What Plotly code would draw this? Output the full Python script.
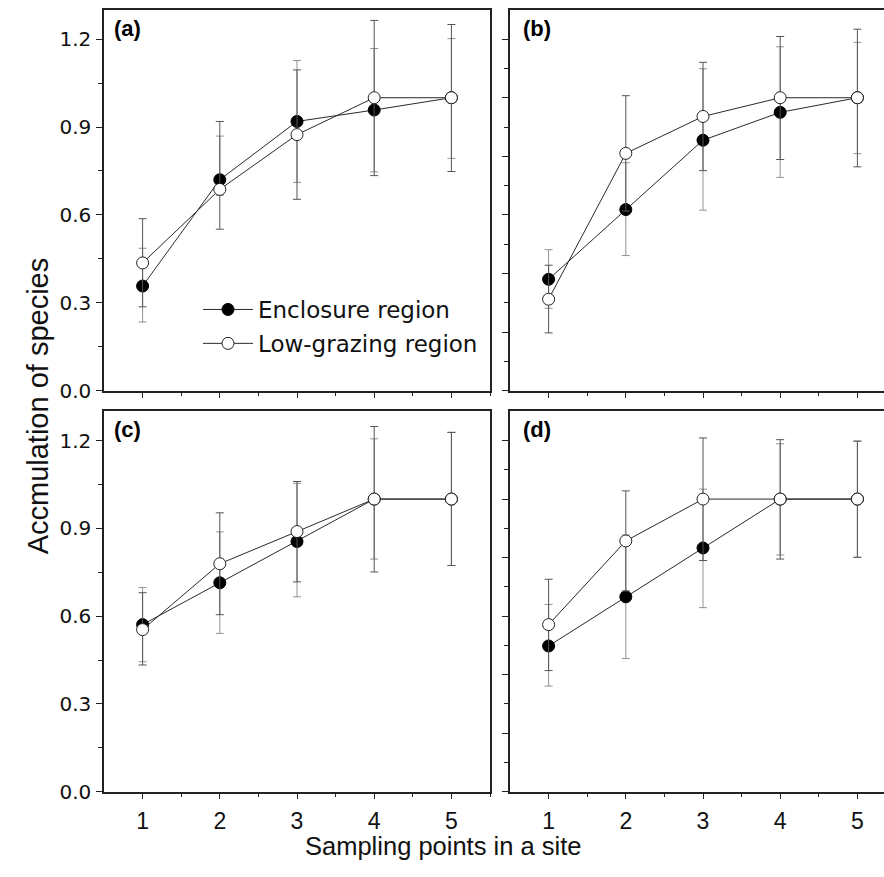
import plotly.graph_objects as go

# ---- data ----
x_points = [1, 2, 3, 4, 5]
series_names = ["Enclosure region", "Low-grazing region"]
panel_labels = ["(a)", "(b)", "(c)", "(d)"]

# Panel (a)
a_enc_mean = [0.357, 0.720, 0.919, 0.958, 1.000]
a_enc_hi = [0.486, 0.869, 1.127, 1.168, 1.202]
a_enc_lo = [0.234, 0.667, 0.711, 0.747, 0.793]
a_low_mean = [0.436, 0.687, 0.874, 1.000, 1.000]
a_low_hi = [0.587, 0.919, 1.095, 1.264, 1.250]
a_low_lo = [0.286, 0.551, 0.653, 0.734, 0.748]

# Panel (b)
b_enc_mean = [0.380, 0.618, 0.855, 0.950, 1.000]
b_enc_hi = [0.481, 0.778, 1.099, 1.174, 1.189]
b_enc_lo = [0.281, 0.461, 0.616, 0.728, 0.809]
b_low_mean = [0.312, 0.810, 0.936, 1.000, 1.000]
b_low_hi = [0.428, 1.007, 1.121, 1.209, 1.234]
b_low_lo = [0.197, 0.613, 0.751, 0.789, 0.764]

# Panel (c)
c_enc_mean = [0.571, 0.714, 0.855, 1.000, 1.000]
c_enc_hi = [0.698, 0.888, 1.054, 1.206, 1.228]
c_enc_lo = [0.444, 0.541, 0.666, 0.795, 0.773]
c_low_mean = [0.554, 0.779, 0.889, 1.000, 1.000]
c_low_hi = [0.680, 0.953, 1.060, 1.248, 1.228]
c_low_lo = [0.433, 0.605, 0.717, 0.751, 0.773]

# Panel (d)
d_enc_mean = [0.498, 0.666, 0.833, 1.000, 1.000]
d_enc_hi = [0.640, 0.877, 1.034, 1.189, 1.198]
d_enc_lo = [0.361, 0.455, 0.629, 0.809, 0.801]
d_low_mean = [0.571, 0.857, 1.000, 1.000, 1.000]
d_low_hi = [0.726, 1.028, 1.209, 1.203, 1.198]
d_low_lo = [0.414, 0.686, 0.790, 0.795, 0.801]

y_ticks_left = [0.0, 0.3, 0.6, 0.9, 1.2]
y_tick_text = ["0.0", "0.3", "0.6", "0.9", "1.2"]
x_tick_text = ["1", "2", "3", "4", "5"]

panels = [
    (a_enc_mean, a_enc_hi, a_enc_lo, a_low_mean, a_low_hi, a_low_lo),
    (b_enc_mean, b_enc_hi, b_enc_lo, b_low_mean, b_low_hi, b_low_lo),
    (c_enc_mean, c_enc_hi, c_enc_lo, c_low_mean, c_low_hi, c_low_lo),
    (d_enc_mean, d_enc_hi, d_enc_lo, d_low_mean, d_low_hi, d_low_lo),
]

W, H = 884, 877
def px_x(p):
    return p / W
def px_y(p):
    return 1 - p / H

x_domains = [[px_x(104), px_x(490)], [px_x(510), 1.0]]
y_domains = [[px_y(396), px_y(10)], [px_y(802.7), px_y(417)]]

fig = go.Figure()
LINE = "#2a2a2a"
ENC_ERR = "#939393"
LOW_ERR = "#555555"

for i, (em, eh, el, lm, lh, ll) in enumerate(panels):
    ax = "" if i == 0 else str(i + 1)
    xr = "x" + ax
    yr = "y" + ax
    fig.add_trace(go.Scatter(
        x=x_points, y=em, xaxis=xr, yaxis=yr, mode="lines+markers",
        name=series_names[0], legendgroup="enc", showlegend=(i == 0),
        line=dict(color=LINE, width=1),
        marker=dict(size=12, color="black", line=dict(color="black", width=1)),
        error_y=dict(type="data", symmetric=False,
                     array=[h - m for h, m in zip(eh, em)],
                     arrayminus=[m - l for m, l in zip(em, el)],
                     color=ENC_ERR, thickness=1, width=4),
    ))
    fig.add_trace(go.Scatter(
        x=x_points, y=lm, xaxis=xr, yaxis=yr, mode="lines+markers",
        name=series_names[1], legendgroup="low", showlegend=(i == 0),
        line=dict(color=LINE, width=1),
        marker=dict(size=12, color="white", line=dict(color="#222222", width=1)),
        error_y=dict(type="data", symmetric=False,
                     array=[h - m for h, m in zip(lh, lm)],
                     arrayminus=[m - l for m, l in zip(lm, ll)],
                     color=LOW_ERR, thickness=1, width=4),
    ))

layout = {}
for i in range(4):
    col = i % 2
    row = i // 2
    ax = "" if i == 0 else str(i + 1)
    left = col == 0
    bottom = row == 1
    xrange_ = [0.5, 5.5] if left else [0.5, 0.5 + (W - 510) / 77.2]
    layout["xaxis" + ax] = dict(
        domain=x_domains[col], anchor="y" + ax, range=xrange_,
        tickmode="array", tickvals=x_points,
        ticktext=x_tick_text if bottom else [""] * 5,
        showticklabels=bottom,
        ticks="outside", ticklen=6, tickwidth=1, tickcolor="#222",
        minor=dict(tickmode="array", tickvals=[1.5, 2.5, 3.5, 4.5, 5.5] if left else [1.5, 2.5, 3.5, 4.5],
                   ticks="outside", ticklen=4, tickwidth=1, tickcolor="#222"),
        showline=True, linecolor="#222", linewidth=1.5, mirror=True,
        showgrid=False, zeroline=False, fixedrange=True,
        tickfont=dict(family="Liberation Sans, Arial", size=23, color="#111"),
        ticklabelstandoff=2,
    )
    if left:
        ydict = dict(tickmode="array", tickvals=y_ticks_left, ticktext=y_tick_text,
                     minor=dict(tickmode="array", tickvals=[0.15, 0.45, 0.75, 1.05],
                                ticks="outside", ticklen=4, tickwidth=1, tickcolor="#222"),
                     showticklabels=True, mirror=True)
    else:
        ydict = dict(tickmode="array", tickvals=[0.0, 0.2, 0.4, 0.6, 0.8, 1.0, 1.2],
                     minor=dict(tickmode="array", tickvals=[0.1, 0.3, 0.5, 0.7, 0.9, 1.1],
                                ticks="outside", ticklen=4, tickwidth=1, tickcolor="#222"),
                     showticklabels=False, mirror=False)
    layout["yaxis" + ax] = dict(
        domain=y_domains[row], anchor="x" + ax, range=[0, 1.3],
        ticks="outside", ticklen=6, tickwidth=1, tickcolor="#222",
        showline=True, linecolor="#222", linewidth=1.5,
        showgrid=False, zeroline=False, fixedrange=True,
        tickfont=dict(family="DejaVu Sans", size=20, color="#111"),
        ticklabelstandoff=1,
        **ydict,
    )

fig.update_layout(**layout)

annotations = []
label_pos = [(112, 14), (521, 14), (112, 421), (521, 421)]
for (lx, ly), lab in zip(label_pos, panel_labels):
    annotations.append(dict(text="<b>%s</b>" % lab, x=px_x(lx), y=px_y(ly), xref="paper", yref="paper",
                            xanchor="left", yanchor="top", showarrow=False,
                            font=dict(family="Liberation Sans, Arial", size=22, color="black")))
annotations.append(dict(text="Sampling points in a site", x=px_x(443), y=px_y(858), xref="paper", yref="paper",
                        xanchor="center", yanchor="middle", showarrow=False,
                        font=dict(family="Liberation Sans, Arial", size=25.5, color="#111")))
annotations.append(dict(text="Accmulation of species", x=px_x(38), y=px_y(412), xref="paper", yref="paper",
                        xanchor="center", yanchor="middle", showarrow=False, textangle=-90,
                        font=dict(family="Liberation Sans, Arial", size=29, color="#111")))

fig.update_layout(
    width=W, height=H, margin=dict(l=0, r=0, t=0, b=0),
    paper_bgcolor="white", plot_bgcolor="white",
    annotations=annotations,
    showlegend=True,
    legend=dict(x=px_x(198), y=px_y(292), xanchor="left", yanchor="top",
                bgcolor="rgba(0,0,0,0)", borderwidth=0, tracegroupgap=1,
                itemwidth=50,
                font=dict(family="DejaVu Sans", size=23, color="#111")),
)

fig.write_html("out.html", config={"displayModeBar": False},
               post_script="document.body.style.margin='0';document.body.style.overflow='hidden';")
